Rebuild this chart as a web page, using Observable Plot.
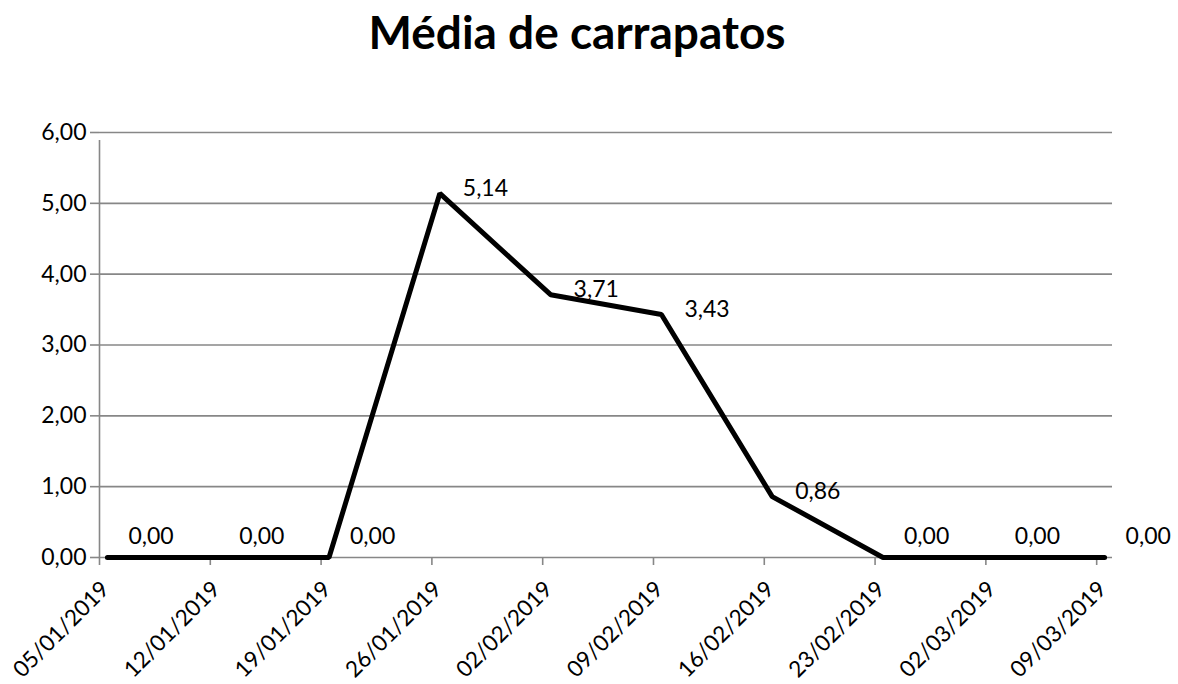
<!DOCTYPE html>
<html>
<head>
<meta charset="utf-8">
<script src="https://cdn.jsdelivr.net/npm/d3@7"></script>
<script src="https://cdn.jsdelivr.net/npm/@observablehq/plot@0.6"></script>
<style>
  html, body { margin: 0; padding: 0; background: #ffffff; }
  body { width: 1178px; height: 684px; overflow: hidden; font-family: Lato, "Open Sans", sans-serif; }
  #title {
    height: 70px;
    box-sizing: border-box;
    padding-top: 9px;
    padding-right: 24px;
    text-align: center;
    font-size: 46px;
    font-weight: 700;
    line-height: 1;
    color: #000000;
  }
  #chart svg { display: block; }
</style>
</head>
<body>
<div id="title">Média de carrapatos</div>
<div id="chart"></div>
<script>
// Weekly sampling dates (dd/mm/yyyy) and mean tick counts
const dates = ["05/01/2019", "12/01/2019", "19/01/2019", "26/01/2019", "02/02/2019",
               "09/02/2019", "16/02/2019", "23/02/2019", "02/03/2019", "09/03/2019"];
const medias = [0.00, 0.00, 0.00, 5.14, 3.71, 3.43, 0.86, 0.00, 0.00, 0.00];
const yTicks = [0, 1, 2, 3, 4, 5, 6];

const parseDate = d3.utcParse("%d/%m/%Y");
const fmtDate = d3.utcFormat("%d/%m/%Y");
const fmtNum = (v) => v.toFixed(2).replace(".", ",");

const tickDates = dates.map(parseDate);
const rows = dates.map((d, i) => ({date: parseDate(d), media: medias[i]}));

// The date axis reserves one whole day per slot; each point sits at mid-day.
const mid = (d) => d3.utcHour.offset(d.date, 12);
const xDomain = [tickDates[0], d3.utcDay.offset(tickDates[tickDates.length - 1], 1)];

const grid = "#878787";
const font = "Lato, 'Open Sans', sans-serif";
const fs = 23;

const chart = Plot.plot({
  width: 1178,
  height: 614,
  marginTop: 62,
  marginBottom: 127,
  marginLeft: 99,
  marginRight: 66,
  style: {fontFamily: font, background: "#ffffff", color: "#000000"},
  x: {type: "utc", domain: xDomain, axis: null},
  y: {domain: [0, 6], axis: null},
  marks: [
    Plot.gridY(yTicks, {stroke: grid, strokeOpacity: 1, strokeWidth: 1.6}),
    // Vertical axis line, running a tick-length below the baseline
    Plot.ruleX([xDomain[0]], {y1: 0, y2: 6, insetBottom: -8, stroke: grid, strokeWidth: 1.6}),
    Plot.axisY(yTicks, {
      tickFormat: fmtNum, tickSize: 9, tickPadding: 4, fontSize: fs,
      stroke: grid, strokeWidth: 1.6, fill: "#000000", label: null
    }),
    // Date ticks below the baseline
    Plot.tickX(tickDates, {x: (d) => d, frameAnchor: "bottom", insetTop: 614 - 127 - 62, insetBottom: -8, stroke: grid, strokeWidth: 1.6}),
    // Date labels, rotated 45° and ending just under each tick
    Plot.text(tickDates, {
      x: (d) => d, frameAnchor: "bottom", text: fmtDate, rotate: -45,
      textAnchor: "end", lineAnchor: "middle", dx: 6, dy: 28,
      fontSize: 22.5, fill: "#000000"
    }),
    Plot.line(rows, {x: mid, y: "media", stroke: "#000000", strokeWidth: 5, strokeLinejoin: "miter"}),
    // Value labels to the right of each point; zeros are lifted off the line
    Plot.text(rows.filter((d) => d.media !== 0), {
      x: mid, y: "media", text: (d) => fmtNum(d.media),
      textAnchor: "start", dx: 23, dy: -5, fontSize: fs, fill: "#000000"
    }),
    Plot.text(rows.filter((d) => d.media === 0), {
      x: mid, y: "media", text: (d) => fmtNum(d.media),
      textAnchor: "start", dx: 21, dy: -21, fontSize: fs, fill: "#000000"
    })
  ]
});

document.getElementById("chart").appendChild(chart);
</script>
</body>
</html>
